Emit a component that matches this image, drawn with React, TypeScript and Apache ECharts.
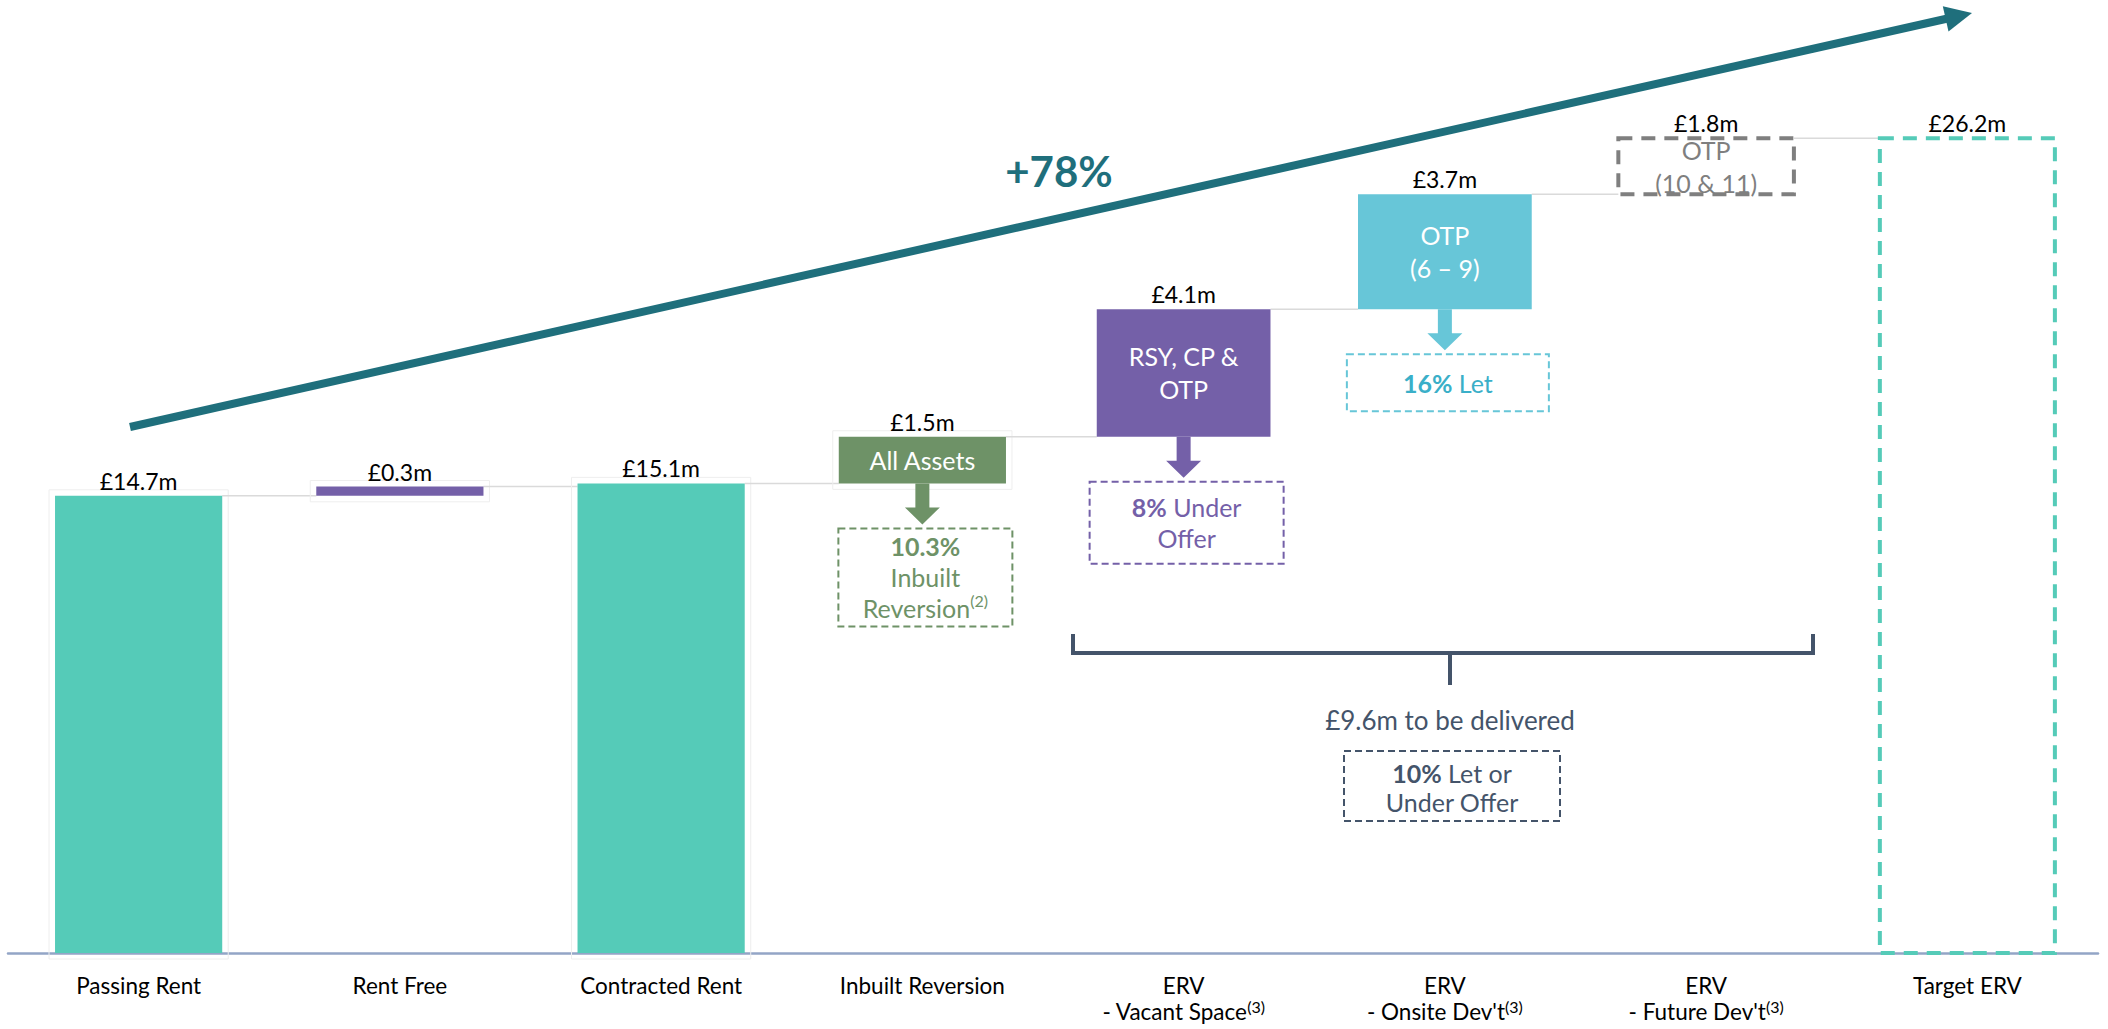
import React, { useEffect, useRef } from 'react';
import * as echarts from 'echarts';

// ---------- data ----------
const categories = [
  'Passing Rent',
  'Rent Free',
  'Contracted Rent',
  'Inbuilt Reversion',
  'ERV\n- Vacant Space',
  "ERV\n- Onsite Dev't",
  "ERV\n- Future Dev't",
  'Target ERV',
];
const categoryFootnotes = ['', '', '', '', '(3)', '(3)', '(3)', ''];
const stepKinds = ['total', 'delta', 'total', 'delta', 'delta', 'delta', 'delta', 'total'];
const stepValues = [14.7, 0.3, 15.1, 1.5, 4.1, 3.7, 1.8, 26.2];
const barNotes = ['', '', '', 'All Assets', 'RSY, CP &\nOTP', 'OTP\n(6 – 9)', 'OTP\n(10 & 11)', ''];
const callouts = [
  '',
  '',
  '',
  '{b|10.3%}\n{n|Inbuilt}\n{n|Reversion}{s|(2)}',
  '{b|8%}{n| Under}\n{n|Offer}',
  '{b|16%}{n| Let}',
  '',
  '',
];
const growthLabel = '+78%';
const deliveredLabel = '£9.6m to be delivered';
const deliveredCallout = '{b|10%}{n| Let or}\n{n|Under Offer}';

// ---------- styles ----------
const FONT = 'Lato, "Open Sans", sans-serif';
const barFill = ['#55CBB8', '#7460A8', '#55CBB8', '#6E9267', '#7460A8', '#67C6D8', 'none', 'none'];
const barDash = ['', '', '', '', '', '', '#7F7F7F', '#55CBB8'];
const barWidthFrac = [0.64, 0.64, 0.64, 0.64, 0.665, 0.665, 0.672, 0.67];
const framed = [true, true, true, true, false, false, false, false];
const noteColor = ['#fff', '#fff', '#fff', '#fff', '#fff', '#fff', '#7F7F7F', '#fff'];
const calloutText = ['', '', '', '#6E9267', '#7460A8', '#3AAFC8', '', ''];
const calloutBox = ['', '', '', '#6E9267', '#7460A8', '#67C6D8', '', ''];
const calloutW = [0, 0, 0, 174, 194, 202, 0, 0];
const calloutH = [0, 0, 0, 98, 82, 57, 0, 0];

// waterfall bases derived from the steps
const bases: number[] = [];
const levels: number[] = [];
(() => {
  let level = 0;
  stepValues.forEach((v, i) => {
    if (stepKinds[i] === 'total') {
      bases.push(0);
      level = v;
    } else {
      bases.push(level);
      level += v;
    }
    levels.push(level);
  });
})();

const NAVY = '#44546A';
const TREND = '#1F6F7C';

function renderItem(params: any, api: any) {
  const i = params.dataIndex;
  const base = api.value(1);
  const val = api.value(2);
  const band = api.size([1, 0])[0];
  const w = band * barWidthFrac[i];
  const pB = api.coord([i, base]);
  const pT = api.coord([i, base + val]);
  const cx = pB[0];
  const yBase = pB[1];
  const yTop = pT[1];
  const x0 = cx - w / 2;
  const h = yBase - yTop;
  const children: any[] = [];

  if (framed[i]) {
    children.push({
      type: 'rect',
      shape: { x: x0 - 6, y: yTop - 6, width: w + 12, height: h + 12 },
      style: { fill: 'none', stroke: '#EEEEEE', lineWidth: 1 },
    });
  }
  // connector to next bar
  if (i < stepValues.length - 1) {
    const nb = api.coord([i + 1, levels[i]]);
    const nw = band * barWidthFrac[i + 1];
    children.push({
      type: 'line',
      shape: { x1: x0 + w, y1: nb[1], x2: nb[0] - nw / 2, y2: nb[1] },
      style: { stroke: '#DADADA', lineWidth: 1.5 },
    });
  }
  if (barDash[i]) {
    children.push({
      type: 'rect',
      shape: { x: x0, y: yTop, width: w, height: h },
      style: { fill: 'none', stroke: barDash[i], lineWidth: 4, lineDash: [14, 9] },
    });
  } else {
    children.push({
      type: 'rect',
      shape: { x: x0, y: yTop, width: w, height: h },
      style: { fill: barFill[i] },
    });
  }
  // value label
  children.push({
    type: 'text',
    style: {
      text: '£' + stepValues[i].toFixed(1) + 'm',
      x: cx,
      y: yTop - 15,
      align: 'center',
      verticalAlign: 'middle',
      fill: '#000',
      fontSize: 23,
      fontFamily: FONT,
    },
  });
  // inside note
  if (barNotes[i]) {
    children.push({
      type: 'text',
      style: {
        text: barNotes[i],
        x: cx,
        y: (yTop + yBase) / 2,
        align: 'center',
        verticalAlign: 'middle',
        fill: noteColor[i],
        fontSize: 25,
        lineHeight: 33,
        fontFamily: FONT,
      },
    });
  }
  // arrow + callout
  if (callouts[i]) {
    const col = barFill[i];
    const tip = yBase + 41;
    const hh = 17;
    children.push({
      type: 'polygon',
      shape: {
        points: [
          [cx - 7, yBase],
          [cx + 7, yBase],
          [cx + 7, tip - hh],
          [cx + 17.5, tip - hh],
          [cx, tip],
          [cx - 17.5, tip - hh],
          [cx - 7, tip - hh],
        ],
      },
      style: { fill: col },
    });
    const bw = calloutW[i];
    const bh = calloutH[i];
    const bx = cx + 3 - bw / 2;
    const by = tip + 4;
    children.push({
      type: 'rect',
      shape: { x: bx, y: by, width: bw, height: bh },
      style: { fill: 'none', stroke: calloutBox[i], lineWidth: 2, lineDash: [7, 4] },
    });
    const c = calloutText[i];
    children.push({
      type: 'text',
      style: {
        text: callouts[i],
        x: cx + 3,
        y: by + bh / 2,
        align: 'center',
        verticalAlign: 'middle',
        fill: c,
        fontSize: 25,
        lineHeight: 31,
        fontFamily: FONT,
        rich: {
          b: { fill: c, fontSize: 25, fontWeight: 'bold', lineHeight: 31, fontFamily: FONT },
          n: { fill: c, fontSize: 25, lineHeight: 31, fontFamily: FONT },
          s: { fill: c, fontSize: 16, lineHeight: 31, verticalAlign: 'top', fontFamily: FONT, padding: [0, 0, 10, 0] },
        },
      },
    });
  }
  return { type: 'group', children };
}

// trend arrow geometry (annotation)
const trendStart = [130, 427];
const trendTip = [1972, 13];

function trendArrow() {
  const dx = trendTip[0] - trendStart[0];
  const dy = trendTip[1] - trendStart[1];
  const len = Math.sqrt(dx * dx + dy * dy);
  const ux = dx / len;
  const uy = dy / len;
  const px = -uy;
  const py = ux;
  const hl = 27;
  const hw = 13;
  const bx = trendTip[0] - ux * hl;
  const by = trendTip[1] - uy * hl;
  return [
    {
      type: 'line',
      shape: { x1: trendStart[0], y1: trendStart[1], x2: bx + ux * 2, y2: by + uy * 2 },
      style: { stroke: TREND, lineWidth: 8 },
    },
    {
      type: 'polygon',
      shape: {
        points: [
          [trendTip[0], trendTip[1]],
          [bx + px * hw, by + py * hw],
          [bx - px * hw, by - py * hw],
        ],
      },
      style: { fill: TREND },
    },
  ];
}

export default function App() {
  const ref = useRef<HTMLDivElement>(null);
  useEffect(() => {
    if (!ref.current) return;
    const chart = echarts.init(ref.current, null, { renderer: 'svg' });
    chart.setOption({
      animation: false,
      backgroundColor: '#ffffff',
      textStyle: { fontFamily: FONT },
      grid: { left: 8, right: 10, top: 20, bottom: 76, containLabel: false },
      xAxis: {
        type: 'category',
        data: categories,
        boundaryGap: true,
        axisTick: { show: false },
        axisLine: { lineStyle: { color: '#93A5C6', width: 2.5 } },
        axisLabel: {
          interval: 0,
          margin: 19,
          color: '#000',
          fontSize: 22.5,
          lineHeight: 26,
          fontFamily: FONT,
          formatter: (value: string, index: number) =>
            categoryFootnotes[index] ? value + '{sup|' + categoryFootnotes[index] + '}' : value,
          rich: {
            sup: { fontSize: 16, color: '#000', verticalAlign: 'top', lineHeight: 26, padding: [0, 0, 8, 0], fontFamily: FONT },
          },
        },
      },
      yAxis: { type: 'value', min: 0, max: 30, show: false },
      series: [
        {
          type: 'custom',
          renderItem,
          clip: false,
          z: 2,
          encode: { x: 0, y: 2 },
          data: stepValues.map((v, i) => [i, bases[i], v]),
        },
      ],
      graphic: [
        ...trendArrow(),
        {
          type: 'text',
          x: 1059,
          y: 171,
          style: {
            text: growthLabel,
            fill: TREND,
            fontSize: 42,
            fontWeight: 'bold',
            fontFamily: FONT,
            align: 'center',
            verticalAlign: 'middle',
          },
        },
        {
          type: 'polyline',
          shape: { points: [[1073, 634], [1073, 653], [1813, 653], [1813, 634]] },
          style: { stroke: NAVY, lineWidth: 4, fill: 'none' },
        },
        {
          type: 'line',
          shape: { x1: 1450, y1: 653, x2: 1450, y2: 685 },
          style: { stroke: NAVY, lineWidth: 4 },
        },
        {
          type: 'text',
          x: 1450,
          y: 720,
          style: {
            text: deliveredLabel,
            fill: NAVY,
            fontSize: 26,
            fontFamily: FONT,
            align: 'center',
            verticalAlign: 'middle',
          },
        },
        {
          type: 'rect',
          shape: { x: 1344, y: 751, width: 216, height: 70 },
          style: { fill: 'none', stroke: NAVY, lineWidth: 2, lineDash: [7, 4] },
        },
        {
          type: 'text',
          x: 1452,
          y: 787,
          style: {
            text: deliveredCallout,
            align: 'center',
            verticalAlign: 'middle',
            fill: NAVY,
            fontSize: 25,
            lineHeight: 29,
            fontFamily: FONT,
            rich: {
              b: { fill: NAVY, fontSize: 25, fontWeight: 'bold', lineHeight: 29, fontFamily: FONT },
              n: { fill: NAVY, fontSize: 25, lineHeight: 29, fontFamily: FONT },
            },
          },
        },
      ],
    });
    return () => chart.dispose();
  }, []);
  return (
    <div
      ref={ref}
      style={{ position: 'fixed', left: 0, top: 0, width: '2108px', height: '1029px', background: '#fff' }}
    />
  );
}
